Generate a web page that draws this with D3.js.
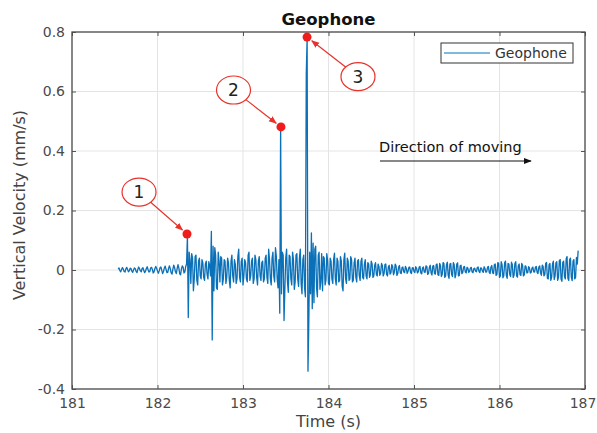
<!DOCTYPE html>
<html><head><meta charset="utf-8">
<script src="https://cdn.jsdelivr.net/npm/d3@7"></script>
<style>body{margin:0;background:#fff}svg{display:block}</style>
</head><body><svg id="c" width="597" height="433"></svg>
<script>
const startTime = 181.54;
const sampleInterval = 0.01;
const velocity = [
0.003,0.007,-0.002,-0.006,0.002,0.008,0.003,-0.005,-0.007,0.004,
0.009,0.002,-0.006,-0.003,0.006,0.005,-0.004,-0.008,0.001,0.007,
0.004,-0.005,-0.009,0.002,0.010,0.004,-0.003,-0.006,0.005,0.008,
-0.002,-0.009,-0.004,0.006,0.011,0.001,-0.007,-0.005,0.007,0.009,
0.002,-0.010,-0.006,0.005,0.012,0.006,-0.004,-0.011,-0.003,0.008,
0.010,-0.001,-0.012,-0.005,0.007,0.013,0.002,-0.009,-0.008,0.006,
0.014,0.004,-0.010,-0.014,0.003,0.016,0.008,-0.006,-0.012,0.005,
0.018,0.006,-0.013,-0.016,0.004,0.014,0.009,-0.010,-0.006,0.012,
0.020,0.115,-0.160,0.060,0.035,-0.045,0.055,0.040,-0.070,-0.030,
0.045,0.050,-0.035,-0.050,0.030,0.040,-0.020,-0.030,0.035,0.025,
-0.025,-0.035,0.020,0.030,-0.015,-0.030,0.028,0.015,-0.020,0.130,
-0.235,0.080,-0.070,0.075,0.050,-0.060,-0.065,0.060,0.030,-0.040,
0.045,0.040,-0.050,-0.030,0.035,0.030,-0.045,-0.025,0.040,0.025,
-0.035,-0.060,0.030,0.050,-0.020,-0.040,0.035,0.020,-0.045,-0.030,
0.045,0.070,-0.025,-0.040,0.030,0.040,-0.050,-0.020,0.035,0.025,
-0.030,-0.040,0.050,0.060,-0.035,-0.020,0.030,0.040,-0.045,-0.030,
0.050,0.035,-0.025,-0.050,0.030,0.045,-0.020,-0.035,0.025,0.030,
-0.040,-0.030,0.040,0.050,-0.025,-0.045,0.070,0.035,-0.030,-0.050,
0.040,0.060,-0.020,-0.040,0.075,0.045,-0.030,-0.060,0.035,-0.145,
0.480,-0.080,0.060,0.050,-0.170,-0.060,0.040,0.070,-0.040,-0.075,
0.050,0.045,-0.030,-0.050,0.060,0.035,-0.065,-0.040,0.050,0.055,
-0.030,-0.055,0.040,0.070,-0.045,-0.080,0.035,0.050,-0.060,-0.090,
0.660,0.780,-0.340,-0.170,0.060,-0.080,0.125,-0.130,0.090,-0.110,
0.070,0.080,-0.060,-0.090,0.050,0.060,-0.065,-0.040,0.055,-0.070,
0.045,0.040,-0.050,-0.035,0.055,0.030,-0.045,-0.050,0.040,0.030,
-0.030,-0.045,0.035,0.057,-0.030,-0.050,0.040,0.030,-0.040,-0.035,
0.045,0.030,-0.055,-0.070,0.035,0.057,-0.030,-0.045,0.040,0.030,
-0.035,-0.030,0.045,0.035,-0.040,-0.035,0.025,0.040,-0.025,-0.040,
0.030,0.035,-0.020,-0.035,0.030,0.040,-0.025,-0.030,0.020,0.035,
-0.020,-0.030,0.025,0.020,-0.025,-0.015,0.030,0.020,-0.025,-0.020,
0.015,0.025,-0.015,-0.020,0.020,0.012,-0.018,-0.010,0.022,0.015,
-0.020,-0.012,0.018,0.020,-0.015,-0.020,0.010,0.016,-0.014,-0.010,
0.018,0.012,-0.016,-0.008,0.020,0.014,-0.018,-0.012,0.010,0.015,
-0.010,-0.012,0.008,0.010,-0.006,-0.009,0.012,0.006,-0.011,-0.005,
0.009,0.010,-0.008,-0.012,0.007,0.008,-0.005,-0.009,0.011,0.006,
-0.010,-0.006,0.009,0.012,-0.010,-0.013,0.007,0.010,-0.007,-0.008,
0.014,0.012,-0.015,-0.011,0.009,0.016,-0.010,-0.017,0.013,0.015,
-0.012,-0.014,0.018,0.020,-0.016,-0.018,0.022,0.015,-0.022,-0.015,
0.025,0.022,-0.025,-0.020,0.018,0.026,-0.018,-0.028,0.020,0.022,
-0.015,-0.022,0.025,0.018,-0.026,-0.015,0.020,0.024,-0.020,-0.018,
0.014,0.016,-0.012,-0.008,0.010,0.012,-0.006,-0.010,0.009,0.006,
-0.008,-0.005,0.007,0.009,-0.007,-0.009,0.005,0.006,-0.004,-0.006,
0.008,0.010,-0.005,-0.009,0.007,0.006,-0.004,-0.008,0.011,0.005,
-0.007,-0.006,0.009,0.012,-0.008,-0.012,0.010,0.015,-0.010,-0.012,
0.018,0.020,-0.018,-0.015,0.025,0.022,-0.025,-0.020,0.028,0.018,
-0.026,-0.020,0.024,0.030,-0.018,-0.028,0.022,0.020,-0.015,-0.022,
0.026,0.018,-0.025,-0.018,0.022,0.028,-0.020,-0.024,0.015,0.020,
-0.016,-0.018,0.022,0.016,-0.020,-0.016,0.014,0.012,-0.010,-0.009,
0.011,0.008,-0.010,-0.008,0.006,0.010,-0.006,-0.007,0.009,0.012,
-0.008,-0.012,0.010,0.014,-0.009,-0.018,0.016,0.012,-0.020,-0.015,
0.022,0.025,-0.028,-0.030,0.018,0.022,-0.035,-0.025,0.020,0.030,
-0.032,-0.020,0.024,0.028,-0.035,-0.025,0.032,0.035,-0.030,-0.038,
0.026,0.030,-0.022,-0.030,0.038,0.045,-0.028,-0.035,0.034,0.040,
-0.025,-0.036,0.030,0.035,-0.030,-0.025,0.042,0.020,0.065
];
const xTicks = [181, 182, 183, 184, 185, 186, 187];
const yTicks = [-0.4, -0.2, 0, 0.2, 0.4, 0.6, 0.8];
const yTickLabels = ["-0.4", "-0.2", "0", "0.2", "0.4", "0.6", "0.8"];
const markTimes = [182.345, 183.444, 183.749];
const markValues = [0.121, 0.481, 0.783];
const markLabels = ["1", "2", "3"];
const labelTimes = [181.784, 182.889, 184.345];
const labelValues = [0.262, 0.605, 0.650];
const titleText = "Geophone";
const seriesName = "Geophone";
const xLabel = "Time (s)";
const yLabel = "Vertical Velocity (mm/s)";
const noteText = "Direction of moving";

const FONT = "DejaVu Sans";
const svg = d3.select("#c");
const L = 72, R = 585, T = 32, B = 389;
const x = d3.scaleLinear().domain([181, 187]).range([L, R]);
const y = d3.scaleLinear().domain([-0.4, 0.8]).range([B, T]);

const defs = svg.append("defs");
function marker(id, color) {
  defs.append("marker").attr("id", id).attr("viewBox", "0 0 10 10")
    .attr("refX", 9).attr("refY", 5).attr("markerWidth", 8).attr("markerHeight", 8)
    .attr("markerUnits", "userSpaceOnUse").attr("orient", "auto")
    .append("path").attr("d", "M0,1 L10,5 L0,9 Z").attr("fill", color);
}
marker("ar", "#e8322b");
marker("ab", "#111");

// grid
const grid = svg.append("g");
grid.selectAll("line.vx").data(xTicks).join("line")
  .attr("x1", d => x(d)).attr("x2", d => x(d)).attr("y1", T).attr("y2", B)
  .attr("stroke", "#e4e4e4").attr("stroke-width", 1);
grid.selectAll("line.hy").data(yTicks).join("line")
  .attr("x1", L).attr("x2", R).attr("y1", d => y(d)).attr("y2", d => y(d))
  .attr("stroke", "#e4e4e4").attr("stroke-width", 1);

// signal
const pts = velocity.map((v, i) => [startTime + i * sampleInterval, v]);
svg.append("path").datum(pts)
  .attr("d", d3.line().x(d => x(d[0])).y(d => y(d[1])))
  .attr("fill", "none").attr("stroke", "#0a70b8").attr("stroke-width", 1.3)
  .attr("stroke-linejoin", "round");

// axes
function styleAxis(g) {
  g.select(".domain").remove();
  g.selectAll(".tick line").attr("stroke", "#555").attr("stroke-width", 1);
  g.selectAll(".tick text").attr("fill", "#4a4a4a").attr("font-family", FONT).attr("font-size", 14);
}
const xAxisG = svg.append("g").attr("transform", `translate(0,${B})`)
  .call(d3.axisBottom(x).tickValues(xTicks).tickFormat(d3.format("d")).tickSizeInner(-4).tickSizeOuter(0).tickPadding(9))
  .call(styleAxis);
// keep the last label inside the window
xAxisG.selectAll(".tick text").filter(d => d === xTicks[xTicks.length - 1]).attr("dx", -2.5);
svg.append("g").attr("transform", `translate(0,${T})`)
  .call(d3.axisTop(x).tickValues(xTicks).tickFormat("").tickSizeInner(-4).tickSizeOuter(0))
  .call(styleAxis);
svg.append("g").attr("transform", `translate(${L},0)`)
  .call(d3.axisLeft(y).tickValues(yTicks).tickFormat((d, i) => yTickLabels[i]).tickSizeInner(-4).tickSizeOuter(0).tickPadding(7))
  .call(styleAxis);
svg.append("g").attr("transform", `translate(${R},0)`)
  .call(d3.axisRight(y).tickValues(yTicks).tickFormat("").tickSizeInner(-4).tickSizeOuter(0))
  .call(styleAxis);
svg.append("rect").attr("x", L).attr("y", T).attr("width", R - L).attr("height", B - T)
  .attr("fill", "none").attr("stroke", "#4d4d4d").attr("stroke-width", 1.3);

// labels
svg.append("text").attr("x", (L + R) / 2).attr("y", 25).attr("text-anchor", "middle")
  .attr("font-family", FONT).attr("font-weight", "bold").attr("font-size", 16.5).attr("fill", "#111").text(titleText);
svg.append("text").attr("x", (L + R) / 2).attr("y", 427).attr("text-anchor", "middle")
  .attr("font-family", FONT).attr("font-size", 16).attr("fill", "#444").text(xLabel);
svg.append("text").attr("transform", "translate(25,205) rotate(-90)").attr("text-anchor", "middle")
  .attr("font-family", FONT).attr("font-size", 16).attr("fill", "#444").text(yLabel);

// legend
const lg = svg.append("g");
lg.append("rect").attr("x", 441).attr("y", 43).attr("width", 132).attr("height", 20)
  .attr("fill", "#fff").attr("stroke", "#333").attr("stroke-width", 1);
lg.append("line").attr("x1", 444).attr("x2", 490).attr("y1", 53).attr("y2", 53)
  .attr("stroke", "#0072BD").attr("stroke-width", 1);
lg.append("text").attr("x", 495).attr("y", 58).attr("font-family", FONT).attr("font-size", 14)
  .attr("fill", "#333").text(seriesName);

// direction note
svg.append("text").attr("x", 379).attr("y", 152).attr("font-family", FONT).attr("font-size", 14.5)
  .attr("fill", "#111").text(noteText);
svg.append("line").attr("x1", 380).attr("x2", 531).attr("y1", 161).attr("y2", 161)
  .attr("stroke", "#111").attr("stroke-width", 1).attr("marker-end", "url(#ab)");

// annotations
const RX = 17, RY = 14;
markTimes.forEach((t, i) => {
  const px = x(t), py = y(markValues[i]);
  const cx = x(labelTimes[i]), cy = y(labelValues[i]);
  const dx = px - cx, dy = py - cy, n = Math.hypot(dx, dy), ux = dx / n, uy = dy / n;
  const s = 1 / Math.sqrt((ux / RX) ** 2 + (uy / RY) ** 2);
  svg.append("ellipse").attr("cx", cx).attr("cy", cy).attr("rx", RX).attr("ry", RY)
    .attr("fill", "#fff").attr("stroke", "#e8322b").attr("stroke-width", 1.2);
  svg.append("text").attr("x", cx).attr("y", cy + 6).attr("text-anchor", "middle")
    .attr("font-family", FONT).attr("font-size", 17).attr("fill", "#222").text(markLabels[i]);
  svg.append("line").attr("x1", cx + ux * s).attr("y1", cy + uy * s)
    .attr("x2", px - ux * 6).attr("y2", py - uy * 6)
    .attr("stroke", "#e8322b").attr("stroke-width", 1.2).attr("marker-end", "url(#ar)");
  svg.append("circle").attr("cx", px).attr("cy", py).attr("r", 4.5).attr("fill", "#f01c1c");
});
</script></body></html>
